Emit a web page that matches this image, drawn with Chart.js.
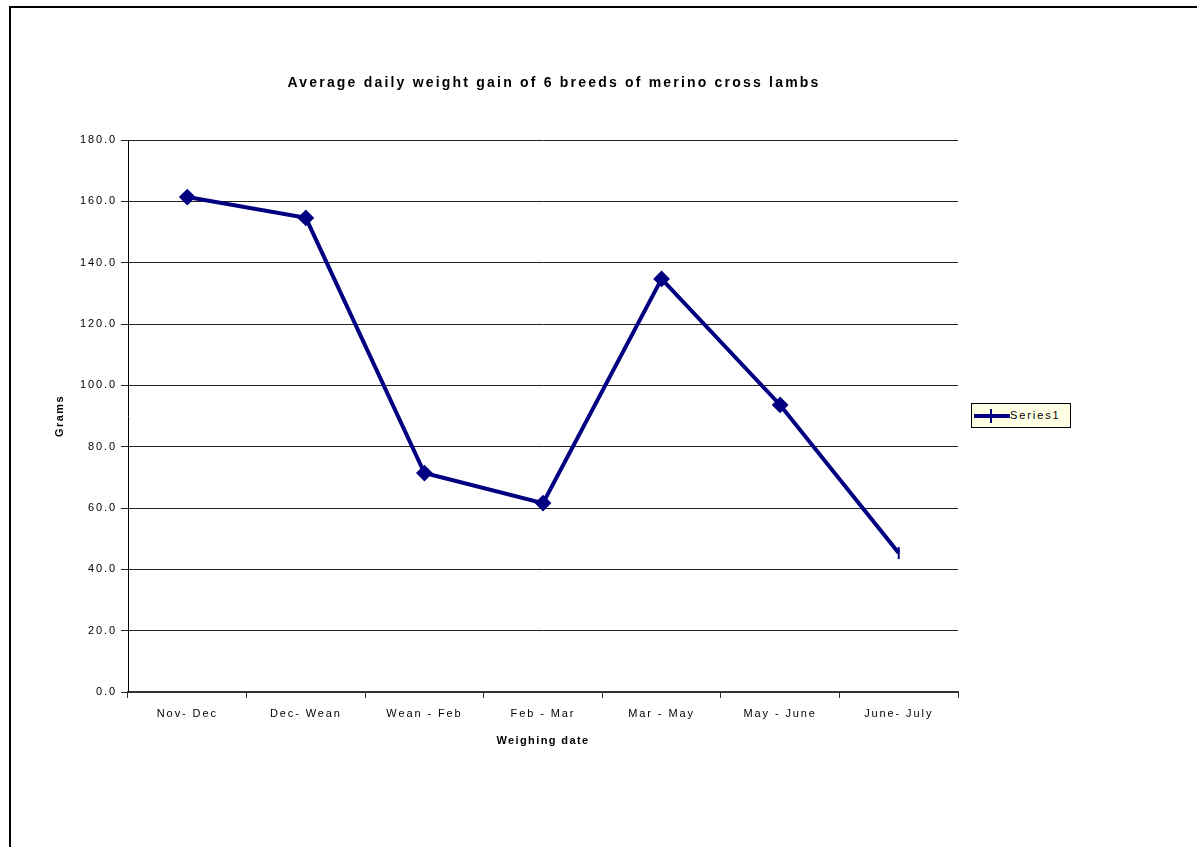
<!DOCTYPE html>
<html>
<head>
<meta charset="utf-8">
<script src="https://cdn.jsdelivr.net/npm/chart.js@4.4.1/dist/chart.umd.min.js"></script>
<style>
  html, body { margin: 0; padding: 0; background: #fff; overflow: hidden; }
  #wrap { position: relative; width: 1197px; height: 847px; }
  #frame { position: absolute; left: 9px; top: 6px; width: 1200px; height: 860px;
           border-left: 2px solid #000; border-top: 2px solid #000; box-sizing: border-box; }
  canvas { position: absolute; left: 0; top: 0; }
  #legend { position: absolute; left: 971px; top: 403px; width: 100px; height: 25px;
            background: #FFFFE6; border: 1px solid #000; box-sizing: border-box;
            font-family: 'Liberation Sans', Arial, sans-serif; font-size: 11px; letter-spacing: 1.9px; color: #000; }
  #legend .sw { position: absolute; left: 2px; top: 10px; width: 36px; height: 4px; background: #000080; }
  #legend .tk { position: absolute; left: 18px; top: 5px; width: 2px; height: 14px; background: #000080; }
  #legend .tx { position: absolute; left: 38px; top: 5px; line-height: 13px; }
</style>
</head>
<body>
<div id="wrap">
  <div id="frame"></div>
  <canvas id="c" width="1197" height="847"></canvas>
  <div id="legend"><div class="sw"></div><div class="tk"></div><div class="tx">Series1</div></div>
</div>
<script>
const categories = ['Nov- Dec', 'Dec- Wean', 'Wean - Feb', 'Feb - Mar', 'Mar - May', 'May - June', 'June- July'];
const series1 = [161.4, 154.6, 71.4, 61.6, 134.7, 93.6, 45.3];
const seriesName = 'Series1';
const titleText = 'Average daily weight gain of 6 breeds of merino cross lambs';
const yTitle = 'Grams';
const xTitle = 'Weighing date';
const yMin = 0, yMax = 180, yStep = 20;

const FONT = "'Liberation Sans', Arial, sans-serif";

function spacingFor(font) {
  if (/bold/.test(font) && /14px/.test(font)) return '2.2px';
  if (/bold/.test(font)) return '1.4px';
  return '1.9px';
}

const pointStyles = series1.map((v, i) => i === series1.length - 1 ? 'line' : 'rectRot');
const pointRot = series1.map((v, i) => i === series1.length - 1 ? 90 : 0);
const pointRad = series1.map((v, i) => i === series1.length - 1 ? 6 : 7);

const layoutPlugin = {
  id: 'layoutTweaks',
  beforeInit(chart) {
    const ctx = chart.ctx;
    const fill = ctx.fillText.bind(ctx);
    const meas = ctx.measureText.bind(ctx);
    ctx.fillText = function (t, x, y, w) { ctx.letterSpacing = spacingFor(ctx.font); return w === undefined ? fill(t, x, y) : fill(t, x, y, w); };
    ctx.measureText = function (t) { ctx.letterSpacing = spacingFor(ctx.font); return meas(t); };
  },
  afterLayout(chart) {
    if (chart.titleBlock) { chart.titleBlock.left = 150; chart.titleBlock.right = 958; }
  }
};

new Chart(document.getElementById('c'), {
  type: 'line',
  data: {
    labels: categories,
    datasets: [{
      label: seriesName,
      data: series1,
      borderColor: '#000080',
      backgroundColor: '#000080',
      borderWidth: 4,
      pointStyle: pointStyles,
      pointRotation: pointRot,
      pointRadius: pointRad,
      pointBorderWidth: 2,
      pointBorderColor: '#000080',
      pointBackgroundColor: '#000080',
      tension: 0
    }]
  },
  options: {
    responsive: false,
    animation: false,
    devicePixelRatio: 1,
    layout: { padding: { left: 0, right: 239, top: 0, bottom: 0 } },
    plugins: {
      legend: { display: false },
      tooltip: { enabled: false },
      title: {
        display: true,
        text: titleText,
        color: '#000',
        font: { family: FONT, size: 14, weight: 'bold' },
        padding: { top: 74.6, bottom: 48.6 }
      }
    },
    scales: {
      x: {
        type: 'category',
        offset: true,
        afterFit(s) { s.height = 155; },
        grid: { display: true, offset: true, drawOnChartArea: false, drawTicks: true, tickLength: 6, color: '#333', lineWidth: 1 },
        border: { display: true, color: '#333', width: 2 },
        ticks: { color: '#000', font: { family: FONT, size: 11 }, padding: 9, maxRotation: 0, autoSkip: false },
        title: { display: true, text: xTitle, color: '#000', font: { family: FONT, size: 11, weight: 'bold' }, padding: { top: 0, bottom: 99.4 } }
      },
      y: {
        min: yMin, max: yMax,
        afterFit(s) { s.width = 128; },
        grid: { color: '#222', lineWidth: 1, drawTicks: true, tickLength: 7 },
        border: { display: true, color: '#000', width: 1 },
        ticks: { stepSize: yStep, color: '#000', font: { family: FONT, size: 11 }, padding: 4,
                 callback: v => Number(v).toFixed(1) },
        title: { display: true, text: yTitle, color: '#000', font: { family: FONT, size: 11, weight: 'bold' }, padding: { top: 53.4, bottom: 0 } }
      }
    }
  },
  plugins: [layoutPlugin]
});
</script>
</body>
</html>
